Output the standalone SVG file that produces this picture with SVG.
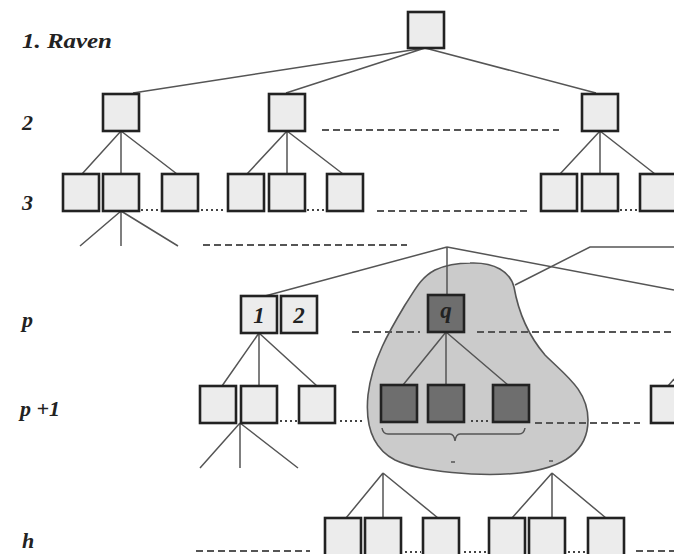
<svg xmlns="http://www.w3.org/2000/svg" width="674" height="554" viewBox="0 0 674 554">
<style>
.bx{fill:#ececec;stroke:#222;stroke-width:2.6}
.dk{fill:#6e6e6e;stroke:#222;stroke-width:2.6}
.ln{stroke:#555;stroke-width:1.5;fill:none}
.da{stroke:#555;stroke-width:2;stroke-dasharray:7,4;fill:none}
.dt{stroke:#444;stroke-width:2;stroke-dasharray:2,3;fill:none}
.lb{font-family:"Liberation Serif","Times New Roman",serif;font-weight:bold;font-style:italic;font-size:22px;fill:#222}
.nb{font-family:"Liberation Serif","Times New Roman",serif;font-weight:bold;font-style:italic;font-size:23px;fill:#222;text-anchor:middle}
</style>
<rect width="674" height="554" fill="#fff"/>
<g id="blob">
<path d="M470,263 C495,262 510,272 514,287 C518,310 528,335 545,355 C565,375 588,390 588,420 C588,450 565,468 520,473 C480,477 420,472 395,460 C372,448 365,425 368,395 C372,360 390,330 405,305 C415,290 420,278 435,270 C448,264 460,263 470,263 Z" fill="#cbcbcb" stroke="#555" stroke-width="1.6"/>
</g>
<g id="labels">
<text class="lb" x="22" y="48" textLength="90" lengthAdjust="spacingAndGlyphs">1. Raven</text>
<text class="lb" x="22" y="130">2</text>
<text class="lb" x="22" y="210">3</text>
<text class="lb" x="22" y="327">p</text>
<text class="lb" x="20" y="416">p +1</text>
<text class="lb" x="22" y="548">h</text>
</g>
<g id="connectors">
<path class="ln" d="M425,48 L133,93 M425,48 L286,93 M425,48 L596,93"/>
<path class="ln" d="M121,131 L82,174 M121,131 L121,174 M121,131 L177,174"/>
<path class="ln" d="M287,131 L247,174 M287,131 L287,174 M287,131 L343,174"/>
<path class="ln" d="M600,131 L560,174 M600,131 L600,174 M600,131 L655,174"/>
<path class="ln" d="M121,211 L80,246 M121,211 L121,246 M121,211 L178,246"/>
<path class="ln" d="M447,247 L265,296 M447,247 L447,295 M447,247 L674,290"/>
<path class="ln" d="M515,285 L590,247 L674,247"/>
<path class="ln" d="M259,333 L222,386 M259,333 L259,386 M259,333 L317,386"/>
<path class="ln" d="M446,332 L403,385 M446,332 L446,385 M446,332 L508,385"/>
<path class="ln" d="M240,423 L200,468 M240,423 L240,468 M240,423 L298,468"/>
<path class="ln" d="M383,473 L346,518 M383,473 L383,518 M383,473 L438,518"/>
<path class="ln" d="M552,473 L512,518 M552,473 L552,518 M552,473 L606,518"/>
<path class="ln" d="M668,386 L674,379"/>
<path class="ln" d="M382,428 Q383,434 388,434 L450,434 Q454,434 455,441 Q456,434 460,434 L519,434 Q524,434 525,428"/>
<path class="ln" d="M451,462 L455,462 M549,461 L553,461"/>
</g>
<g id="dashes">
<path class="da" d="M322,130 L559,130"/>
<path class="da" d="M377,211 L528,211"/>
<path class="da" d="M203,245 L407,245"/>
<path class="da" d="M352,332 L420,332 M477,332 L674,332"/>
<path class="da" d="M535,423 L640,423"/>
<path class="da" d="M196,551 L310,551 M636,551 L674,551"/>
<path class="dt" d="M141,210 L160,210 M201,210 L225,210 M307,210 L325,210 M620,210 L638,210"/>
<path class="dt" d="M280,421 L297,421 M340,421 L363,421 M471,421 L490,421"/>
<path class="dt" d="M405,552 L421,552 M464,552 L486,552 M568,552 L586,552"/>
</g>
<g id="n-root"><rect class="bx" x="408" y="12" width="36" height="36"/></g>
<g id="n-2a"><rect class="bx" x="103" y="94" width="36" height="37"/></g>
<g id="n-2b"><rect class="bx" x="269" y="94" width="36" height="37"/></g>
<g id="n-2c"><rect class="bx" x="582" y="94" width="36" height="37"/></g>
<g id="n-3a"><rect class="bx" x="63" y="174" width="36" height="37"/></g>
<g id="n-3b"><rect class="bx" x="103" y="174" width="36" height="37"/></g>
<g id="n-3c"><rect class="bx" x="162" y="174" width="36" height="37"/></g>
<g id="n-3d"><rect class="bx" x="228" y="174" width="36" height="37"/></g>
<g id="n-3e"><rect class="bx" x="269" y="174" width="36" height="37"/></g>
<g id="n-3f"><rect class="bx" x="327" y="174" width="36" height="37"/></g>
<g id="n-3g"><rect class="bx" x="541" y="174" width="36" height="37"/></g>
<g id="n-3h"><rect class="bx" x="582" y="174" width="36" height="37"/></g>
<g id="n-3i"><rect class="bx" x="640" y="174" width="36" height="37"/></g>
<g id="n-p1"><rect class="bx" x="241" y="296" width="36" height="37"/><text class="nb" x="259" y="323">1</text></g>
<g id="n-p2"><rect class="bx" x="281" y="296" width="36" height="37"/><text class="nb" x="299" y="323">2</text></g>
<g id="n-q"><rect class="dk" x="428" y="295" width="36" height="37"/><text class="nb" x="446" y="318">q</text></g>
<g id="n-p1a"><rect class="bx" x="200" y="386" width="36" height="37"/></g>
<g id="n-p1b"><rect class="bx" x="241" y="386" width="36" height="37"/></g>
<g id="n-p1c"><rect class="bx" x="299" y="386" width="36" height="37"/></g>
<g id="n-q1"><rect class="dk" x="381" y="385" width="36" height="37"/></g>
<g id="n-q2"><rect class="dk" x="428" y="385" width="36" height="37"/></g>
<g id="n-q3"><rect class="dk" x="493" y="385" width="36" height="37"/></g>
<g id="n-p1r"><rect class="bx" x="651" y="386" width="40" height="37"/></g>
<g id="n-h1"><rect class="bx" x="325" y="518" width="36" height="40"/></g>
<g id="n-h2"><rect class="bx" x="365" y="518" width="36" height="40"/></g>
<g id="n-h3"><rect class="bx" x="423" y="518" width="36" height="40"/></g>
<g id="n-h4"><rect class="bx" x="489" y="518" width="36" height="40"/></g>
<g id="n-h5"><rect class="bx" x="529" y="518" width="36" height="40"/></g>
<g id="n-h6"><rect class="bx" x="588" y="518" width="36" height="40"/></g>
</svg>
